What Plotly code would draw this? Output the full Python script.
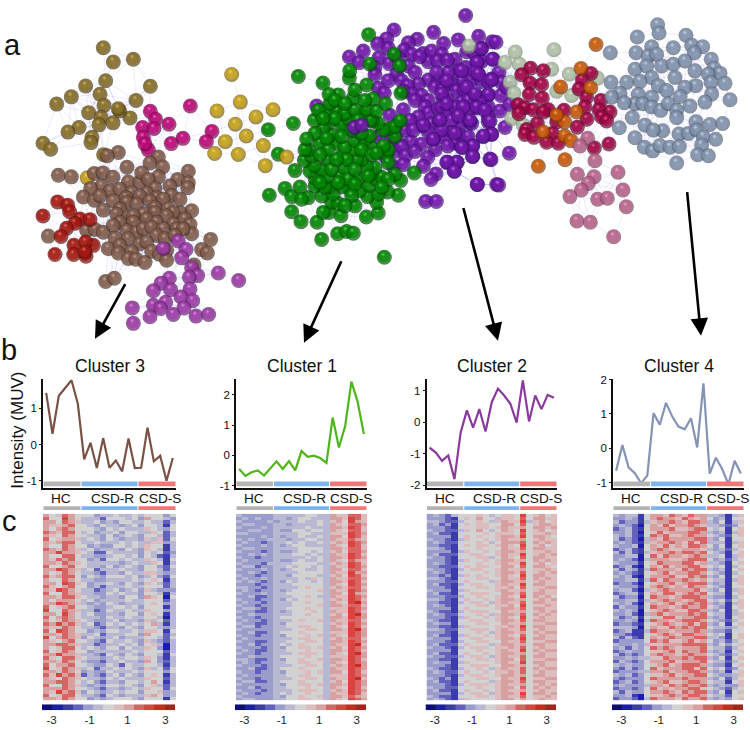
import plotly.graph_objects as go

# ---------- network nodes ----------
# L: read on a 3x crop with origin (0,20); M: origin (255,0); R: origin (375,0)
OLIVE_L = [(310,70),(340,113),(400,105),(317,170),(257,186),(451,187),(214,219),(170,241),(300,211),(408,230),(312,245),(266,267),(390,283),(359,262),(355,255),(303,281),(339,298),(297,304),(237,312),(204,326),(276,342),(273,358),(129,360),(152,378),(311,395)]
MAGENTA_L = [(571,247),(451,263),(467,287),(507,302),(428,312),(462,315),(430,342),(636,324),(549,345),(514,361),(619,355),(445,380),(435,362)]
GOLD_L = [(695,151),(721,235),(651,262),(819,258),(768,280),(706,302),(739,338),(676,355),(790,367),(644,391),(715,394),(796,428),(262,465)]
RED_L = [(173,538),(203,548),(209,568),(129,581),(240,590),(270,592),(225,603),(200,618),(183,643),(222,670),(280,670),(257,660),(165,698),(221,698),(258,703),(255,690)]
BROWN_L = [(355,388),(322,398),(475,402),(450,420),(488,432),(381,433),(565,445),(175,457),(214,462),(283,452),(309,450),(339,463),(475,462),(533,470),(565,480),(563,495),(385,478),(420,478),(425,450),(445,470),(465,497),(305,490),(272,497),(330,505),(360,500),(395,510),(250,523),(283,533),(300,520),(340,535),(378,525),(440,512),(510,490),(515,518),(420,520),(470,525),(450,535),(490,530),(380,540),(410,545),(465,555),(505,558),(540,530),(575,565),(310,563),(360,560),(350,575),(385,583),(430,575),(465,570),(540,570),(520,570),(500,580),(440,590),(400,580),(470,600),(360,600),(520,605),(400,600),(555,590),(570,607),(530,620),(575,635),(260,625),(285,622),(145,642),(310,630),(340,610),(345,648),(380,625),(410,630),(430,620),(455,615),(490,620),(550,620),(470,640),(495,650),(525,640),(385,650),(420,665),(440,660),(325,680),(360,670),(355,693),(395,690),(385,710),(408,712),(435,722),(455,688),(478,697),(500,685),(500,715),(632,652),(605,683),(622,693),(317,780),(343,770),(582,730)]
LILAC_L = [(490,680),(535,657),(558,683),(545,708),(575,738),(593,762),(568,767),(655,754),(716,777),(508,770),(483,785),(460,808),(512,805),(570,803),(543,827),(578,838),(397,860),(460,852),(497,843),(482,862),(552,860),(520,880),(450,887),(588,885),(626,880),(400,907)]
PURPLE_M = [(632,32),(417,76),(536,83),(395,103),(487,104),(610,106),(671,95),(566,117),(325,140),(368,118),(460,115),(400,132),(447,137),(283,158),(312,175),(372,160),(403,178),(360,190),(360,212),(505,147),(530,140),(470,150),(430,160),(600,165),(680,170),(680,132),(635,142),(560,150),(657,145),(712,112),(715,165),(665,175),(610,200),(580,205),(520,172),(460,185),(495,157),(548,170),(578,168),(632,190),(670,210),(425,210),(400,230),(440,230),(480,205),(520,228),(550,230),(490,240),(620,230),(590,240),(540,250),(545,205),(650,228),(680,232),(710,225),(458,245),(470,270),(370,253),(388,268),(445,262),(500,275),(563,257),(605,260),(627,258),(660,275),(700,273),(480,290),(520,290),(565,285),(580,290),(620,295),(640,290),(680,290),(445,318),(405,335),(510,310),(520,328),(550,315),(560,310),(580,320),(600,310),(665,312),(700,310),(490,340),(700,340),(430,360),(465,350),(503,367),(530,360),(552,350),(610,337),(620,360),(645,357),(650,360),(700,355),(450,380),(590,385),(615,395),(685,400),(710,392),(410,400),(425,407),(467,415),(560,400),(640,400),(535,408),(500,423),(600,420),(578,428),(620,432),(653,427),(420,445),(440,430),(540,440),(452,458),(518,463),(480,445),(653,460),(705,468),(578,478),(607,478),(598,505),(505,490),(390,460),(415,490),(445,485),(543,513),(528,530),(667,545),(512,597),(544,597),(725,545),(185,307),(370,400),(560,380),(640,320),(590,350),(475,380),(520,385)]
PURPLE_R = [(363,113),(318,133),(352,165),(307,175),(372,205),(260,200),(300,205),(310,210),(340,232),(215,230),(380,235),(350,228),(275,250),(200,270),(340,272),(378,275),(215,300),(315,295),(305,310),(330,320),(375,322),(285,350),(345,353),(240,390),(390,372),(350,393),(325,398),(403,450),(348,470),(371,547),(307,545),(293,428),(262,433),(293,460),(245,478),(215,478),(238,505),(265,310),(300,270),(250,337),(195,350),(145,365),(175,408),(404,302),(395,250)]
GREEN_M = [(130,217),(204,237),(341,90),(115,360),(40,379),(70,453),(120,503),(43,578),(90,557),(110,582),(135,553),(160,585),(140,590),(110,628),(138,658),(186,660),(200,712),(248,695),(275,688),(295,693),(222,630),(205,630),(258,640),(334,644),(370,632),(365,600),(388,766),(430,578),(398,568),(338,582),(300,610),(230,600),(250,603),(200,580),(235,575),(370,575),(315,565),(285,560),(222,553),(262,552),(180,550),(210,555),(342,548),(365,530),(380,523),(437,533),(478,510),(420,515),(400,530),(350,510),(310,525),(255,520),(360,495),(335,490),(320,470),(305,470),(268,495),(280,530),(215,522),(180,525),(165,505),(200,500),(178,488),(148,472),(170,460),(220,470),(260,460),(395,455),(400,440),(160,440),(150,440),(195,420),(245,420),(220,440),(295,440),(270,433),(345,430),(300,413),(330,410),(345,398),(385,428),(420,400),(405,375),(420,370),(385,380),(370,360),(352,352),(300,385),(270,375),(260,365),(280,345),(345,350),(230,395),(220,360),(205,375),(180,390),(155,407),(178,350),(210,322),(247,322),(190,320),(225,300),(270,330),(320,335),(300,318),(335,318),(365,322),(392,300),(355,285),(295,283),(250,273),(222,272),(300,258),(335,243),(283,222),(284,200),(438,268),(436,352),(418,150),(434,185),(345,180),(240,345),(275,470),(320,440),(230,500),(300,500),(195,540),(250,540),(300,545),(350,455),(400,480),(365,450),(245,470),(195,455),(320,390),(290,380),(260,400),(240,290),(330,290),(270,300),(310,350),(205,345),(215,405),(340,520),(290,580),(270,610),(380,555)]
PURPLE_TOP_M = [(298,372),(320,365)]
GOLD_TOP_M = [(95,462)]
SAGE_R = [(282,125),(421,143),(537,136),(390,175),(433,180),(530,195),(583,210),(667,222),(405,235),(417,268),(545,262),(590,275),(410,345),(445,365)]
CRIMSON_R = [(467,192),(505,200),(440,212),(465,237),(500,242),(648,208),(622,228),(612,255),(463,272),(502,283),(635,280),(678,290),(430,303),(450,312),(432,330),(475,318),(520,318),(505,325),(567,320),(630,310),(672,318),(705,325),(680,340),(695,352),(636,347),(545,355),(487,360),(607,371),(455,378),(450,393),(477,402),(533,390),(515,417),(550,420),(658,434),(702,422)]
ORANGE_R = [(663,120),(618,193),(557,249),(647,252),(605,325),(569,355),(545,335),(505,386),(569,398),(588,412),(570,470),(490,490)]
MAUVE_R = [(638,405),(615,428),(660,473),(607,514),(657,522),(729,508),(640,542),(619,562),(744,562),(585,582),(668,590),(697,587),(754,613),(606,656),(646,660),(716,704)]
SLATE_R = [(848,60),(852,85),(787,97),(933,92),(706,145),(830,127),(783,145),(895,130),(950,122),(983,127),(958,145),(820,155),(845,150),(780,195),(815,185),(860,185),(895,180),(930,170),(1009,165),(1017,192),(1035,207),(960,200),(900,220),(830,220),(1000,210),(795,232),(755,235),(708,235),(850,245),(962,245),(1008,235),(1050,238),(875,260),(930,250),(1010,270),(1065,288),(735,268),(710,280),(790,272),(830,280),(780,300),(748,297),(803,300),(830,310),(857,320),(945,307),(990,295),(915,278),(772,342),(810,365),(733,373),(880,300),(905,320),(905,342),(963,355),(1005,363),(1043,360),(863,382),(835,380),(912,392),(940,390),(965,380),(985,400),(1022,408),(780,403),(808,432),(833,443),(855,427),(885,432),(913,430),(980,425),(968,455),(1000,458),(905,480)]

def crop(points, ox, oy):
    return [(ox + a / 3, oy + b / 3) for a, b in points]

# name, nodes, dark edge, body, highlight, link distance
NETWORK = [
    ("olive", crop(OLIVE_L, 0, 20), "#4a3a10", "#8a7128", "#d8c890", 42),
    ("magenta", crop(MAGENTA_L, 0, 20), "#6a0445", "#c00878", "#f090d0", 34),
    ("gold", crop(GOLD_L, 0, 20), "#6f5608", "#c9a51a", "#f4e490", 36),
    ("brown", crop(BROWN_L, 0, 20), "#4a3024", "#85604f", "#d0b8ac", 34),
    ("red", crop(RED_L, 0, 20), "#5e0c08", "#a81810", "#ea8c80", 30),
    ("lilac", crop(LILAC_L, 0, 20), "#5a1c66", "#a03ca8", "#e4b0e8", 34),
    ("purple", crop(PURPLE_M, 255, 0) + crop(PURPLE_R, 375, 0), "#3d0a70", "#7418ac", "#cc98e8", 28),
    ("green", crop(GREEN_M, 255, 0), "#014d01", "#038a03", "#80dc80", 28),
    ("purple2", crop(PURPLE_TOP_M, 255, 0), "#3d0a70", "#7418ac", "#cc98e8", 0),
    ("gold2", crop(GOLD_TOP_M, 255, 0), "#6f5608", "#c9a51a", "#f4e490", 0),
    ("sage", crop(SAGE_R, 375, 0), "#7c8c74", "#b4c4aa", "#eef4ea", 34),
    ("crimson", crop(CRIMSON_R, 375, 0), "#5a0428", "#a40545", "#ee88a8", 30),
    ("orange", crop(ORANGE_R, 375, 0), "#7a3404", "#cc5c08", "#f8bc80", 30),
    ("mauve", crop(MAUVE_R, 375, 0), "#7a3c5a", "#bb668e", "#f0c4d8", 36),
    ("slate", crop(SLATE_R, 375, 0), "#505e72", "#8596b0", "#dfe6ee", 30),
]

# ---------- profiles ----------
GROUP_NAMES = ["HC", "CSD-R", "CSD-S"]
GROUP_SPANS = [(-0.5, 5.5), (5.5, 14.5), (14.5, 20.5)]
GROUP_COLORS = ["#b4b4b4", "#7db4ee", "#ee7878"]
SAMPLES = list(range(21))
CLUSTER_NAMES = ["Cluster 3", "Cluster 1", "Cluster 2", "Cluster 4"]
LINE_COLORS = ["#7a5245", "#4fb51c", "#8a3a9c", "#8494b4"]
PROFILE_3 = [1.43,0.30,1.35,1.58,1.78,1.13,-0.41,0.05,-0.65,0.18,-0.64,-0.44,-0.74,0.17,-0.65,-0.64,0.47,-0.46,-0.31,-1.0,-0.37]
PROFILE_1 = [-0.45,-0.68,-0.56,-0.50,-0.67,-0.43,-0.20,-0.45,-0.19,-0.50,0.14,-0.05,-0.01,-0.09,-0.25,1.25,0.26,0.97,2.44,1.77,0.70]
PROFILE_2 = [-0.80,-0.96,-1.22,-1.05,-1.80,-0.32,0.38,-0.17,0.42,-0.29,0.64,1.07,0.85,0.59,-0.01,1.33,0.03,0.85,0.42,0.87,0.78]
PROFILE_4 = [-0.66,0.09,-0.56,-0.73,-1.02,-0.80,1.02,0.68,1.32,0.92,0.63,0.55,0.87,0.02,1.89,-0.74,-0.28,-0.61,-1.05,-0.37,-0.74]
PROFILES = [PROFILE_3, PROFILE_1, PROFILE_2, PROFILE_4]
Y_RANGES = [(-1.2, 1.82), (-1.08, 2.53), (-2.08, 1.38), (-1.16, 2.02)]
Y_TICKS = [[-1, 0, 1], [-1, 0, 1, 2], [-2, -1, 0, 1], [-1, 0, 1, 2]]
Y_TICK_TEXT = [["-1", "0", "1"], ["-1", "0", "1", "2"], ["-2", "-1", "0", "1"], ["-1", "0", "1", "2"]]

# ---------- heat map cells: one character per sample, a 13 step scale 0..c ----------
HEAT_3 = """
867986 664556556 566646
966a86 555366656 486654
886987 556454665 565535
877896 654655456 466526
868986 665465655 576546
987996 564556466 557635
876986 655464565 466535
967887 565465455 475736
878996 556555656 557745
866986 645446656 576625
987987 564555465 476525
88a887 653365555 465634
866996 554456656 465325
879896 645366565 576526
887987 655555456 557625
966896 655464565 466436
88a987 563555655 466535
867986 554355465 577545
978996 465466656 456436
866986 554455556 567625
886a97 645565465 476535
976896 645355565 566635
87a986 553456456 475444
966987 554465655 466525
887997 655455466 487616
868886 564555565 566635
88a987 545465455 567645
967896 654456656 466625
a66987 553465565 576645
886a86 564455466 467625
968986 555465565 566515
867987 654456455 475635
98a897 563465656 568525
877986 554355465 466545
96a986 645466556 577626
887987 556355566 486635
a68987 465456455 566536
876896 654365565 475435
889987 553455656 467515
867996 565466465 576415
967986 645555556 566635
88a887 554365465 466526
976997 655456566 576425
887986 544355655 486435
968896 654465365 566525
a67987 563556565 475636
887986 454465556 566646
97a897 354356465 467625
876987 655465655 576635
889986 564355466 568625
966987 545466565 467535
888986 654355456 576636
87a897 465456566 466745
967996 554365455 578645
887986 645456665 466626
""".split("\n")

HEAT_1 = """
544444 555556655 877997
454544 554566555 887a97
544445 455565565 786a87
455444 554555565 876998
544454 555556555 887a97
445544 544665665 876997
554444 555566555 777a98
444454 545565565 886a97
545445 554556655 877987
454434 556565565 787a98
544454 545665555 876a97
455444 555566665 887997
544434 544566565 786998
445454 555665655 877a97
544344 555556565 887a98
454444 544565565 876987
544435 555666655 787a97
455344 556566565 877a98
544454 545665565 886997
445434 555566665 877a88
544344 554666655 786a97
454454 555565765 877998
545434 546566565 887a97
444344 555666665 876a98
554434 555567665 787997
454344 545666675 877a98
544454 556666665 886a87
445334 555667655 877a98
544344 546566665 787a97
454434 555667665 876ab8
544344 555666675 887997
455434 556667665 777a98
544334 545666765 877a97
445444 555667665 786ab8
544344 566666665 887a98
454434 555676675 877997
544334 546666665 787a98
455344 556677665 876a97
544444 555667765 887ab8
445334 566676665 777a98
544344 546667675 876a98
454444 555677665 787997
544334 556667765 887a98
445344 565676665 877ab7
544434 546677675 786a98
454334 556667665 887a97
544344 555677765 876ab8
445444 566667665 777a98
554334 546676675 887a97
454344 556677665 876a98
544434 555667765 787ab8
445334 566676665 877a98
544344 546667675 886a97
454444 556677665 777a98
544344 555667765 877ab7
455334 566676665 786a98
544444 546677675 887a98
445344 556667665 876a97
544434 555677765 787a98
454344 565667665 877a97
544444 546676675 887987
455444 556677665 876a98
""".split("\n")

HEAT_2 = """
454356 667656776 a67867
444326 768665776 968877
554335 667657877 a57867
453426 767766886 967887
444326 667767877 868878
544335 768656876 a67867
453326 666767776 967787
444426 767667887 a68876
544325 766767877 867877
454336 667656888 968787
443326 767767876 a67867
554326 667666877 968877
444425 766767887 867787
453336 677667877 a67878
544326 667756876 968877
444325 766767887 868787
454326 667667877 a67867
443336 767766886 968876
544325 677667877 867787
454326 666767887 967878
443425 767667876 a68877
554326 667766877 968787
444336 766657887 867877
453325 677667877 a68877
444326 667767786 967788
544425 766667877 867877
453326 677766887 968877
444335 667667876 a68786
554326 766767887 867878
443325 677657877 968877
454326 667767786 a67787
444426 766667887 968877
543325 677766877 867878
454336 667657887 968787
444325 766767876 a67877
543326 677667887 968877
454426 667766877 867788
443325 766667787 a68877
554336 677767877 967877
444326 667657887 868788
453325 766767876 967877
544426 677667887 a68877
444325 667766877 967788
453336 766657887 868877
544325 677767787 967877
444426 667667877 a68788
453326 766767887 867877
544335 677657877 968877
443326 667767886 967788
454425 766667877 a68877
444326 677766887 867877
543325 667657877 968788
454336 766767787 967877
444325 677667887 868877
543426 667766877 a67788
453326 766657887 968877
444325 677767877 867878
544336 667667886 968787
453326 766767877 867877
444425 677657887 a68878
543326 667767877 967787
454325 766667886 867877
""".split("\n")

HEAT_4 = """
545526 887987988 554257
445426 898879878 645266
534425 788987998 546257
454316 879788987 554346
345326 888977899 656267
445316 797888998 545257
545326 989778988 654367
534315 879888899 546266
454325 788987979 555257
544516 879787998 646267
345326 898778887 545356
535325 788989989 654267
445516 979887898 556257
454315 888778999 645356
544426 798889978 554267
345216 879788997 656256
535425 988879899 545267
454326 789788998 654256
545216 888977989 546267
445525 979889878 655257
344316 788978999 545267
544426 898787988 654266
455315 789888897 546257
345526 879978989 655267
534416 988789998 544256
445525 789887899 656367
545316 878978989 545257
354426 988789889 654267
545416 789877998 546256
445315 897888989 655257
534526 779978899 545267
445415 988789998 654356
344326 789878979 546267
555416 877989899 655456
345225 988788898 544366
443226 789879988 656267
535326 878988899 554267
344446 989778978 645356
544545 778889999 546467
453546 989878889 655356
345446 778979889 545267
534346 898878988 654356
445455 779889899 546267
354346 888978889 655356
545446 789789998 544267
435346 978889979 656346
344455 889788998 545267
545346 778978899 654457
434446 988889888 546356
345346 789778998 655267
454445 887989889 545447
344346 978788997 654356
535446 889879899 546267
445216 778988998 655366
344315 988879889 545467
""".split("\n")

HEATS = [HEAT_3, HEAT_1, HEAT_2, HEAT_4]
LEVEL_CHARS = "0123456789abc"
LEVEL_VALUES = [-3.23,-2.69,-2.15,-1.62,-1.08,-0.54,0.0,0.54,1.08,1.62,2.15,2.69,3.23]
LEVEL_COLORS = ["#0c0c80","#1c1cb4","#3c3cae","#6262bc","#9a9ccc","#b8b8d2","#d2d2d2","#dcbcbc","#d8a0a0","#d86464","#d84440","#c82a20","#a82220"]
SCALE_TICKS = [-3, -1, 1, 3]
SCALE_TICK_TEXT = ["-3", "-1", "1", "3"]

# ---------- page geometry in pixels ----------
W, H = 750, 730
LEFTS = [43, 236, 426.5, 613]
RIGHTS = [176, 367, 557, 744]
LINE_TOP, LINE_BOT = 378.5, 489
HEAT_TOP, HEAT_BOT = 515, 704
BAR_TOP, BAR_BOT = 708, 714
FONT = "Liberation Sans"

fig = go.Figure()

# network links from node distances
link_x, link_y = [], []
for name, nodes, _, _, _, reach in NETWORK:
    for i, (x0, y0) in enumerate(nodes):
        for x1, y1 in nodes[i + 1:]:
            if (x0 - x1) ** 2 + (y0 - y1) ** 2 < reach ** 2:
                link_x += [x0, x1, None]
                link_y += [y0, y1, None]
every = [(n, c[0]) for c in NETWORK for n in c[1]]
for i, (p, a) in enumerate(every):
    for q, b in every[i + 1:]:
        if a[:5] != b[:5] and (p[0] - q[0]) ** 2 + (p[1] - q[1]) ** 2 < 26 ** 2:
            link_x += [p[0], q[0], None]
            link_y += [p[1], q[1], None]
fig.add_trace(go.Scatter(x=link_x, y=link_y, mode="lines", hoverinfo="skip", showlegend=False,
                         line=dict(color="rgba(110,110,250,0.2)", width=0.7), xaxis="x", yaxis="y"))

# spheres: each node is a shaded disc, its flat body and a small highlight
for name, nodes, dark, body, light, _ in NETWORK:
    xs, ys, sizes, edge, centre = [], [], [], [], []
    for x0, y0 in nodes:
        xs += [x0, x0 - 0.5, x0 - 1.2]
        ys += [y0, y0 - 0.9, y0 - 2.8]
        sizes += [15, 12, 5]
        edge += [dark, body, body]
        centre += [body, body, light]
    fig.add_trace(go.Scatter(x=xs, y=ys, mode="markers", hoverinfo="skip", showlegend=False, name=name,
                             marker=dict(size=sizes, color=edge, line=dict(width=0),
                                         gradient=dict(type="radial", color=centre)),
                             xaxis="x", yaxis="y"))

layout = dict(
    width=W, height=H, margin=dict(l=0, r=0, t=0, b=0), showlegend=False,
    paper_bgcolor="white", plot_bgcolor="rgba(0,0,0,0)",
    xaxis=dict(domain=[0, 1], range=[0, W], visible=False, fixedrange=True),
    yaxis=dict(domain=[0, 1], range=[H, 0], visible=False, fixedrange=True),
)

shapes, notes = [], []
scale = []
for i, c in enumerate(LEVEL_COLORS):
    scale += [[i / 13, c], [(i + 1) / 13, c]]

for k in range(4):
    lx, rx = LEFTS[k], RIGHTS[k]
    dom = [lx / W, rx / W]
    a_line, a_heat, a_bar = 2 + 3 * k, 3 + 3 * k, 4 + 3 * k
    # profile
    fig.add_trace(go.Scatter(x=SAMPLES, y=PROFILES[k], mode="lines", hoverinfo="skip",
                             line=dict(color=LINE_COLORS[k], width=2.2),
                             xaxis=f"x{a_line}", yaxis=f"y{a_line}"))
    layout[f"xaxis{a_line}"] = dict(domain=dom, range=[-0.5, 20.5], anchor=f"y{a_line}", showgrid=False, zeroline=False,
                                    showticklabels=False, ticks="", showline=True, linecolor="#111", linewidth=1.6, fixedrange=True)
    layout[f"yaxis{a_line}"] = dict(domain=[1 - LINE_BOT / H, 1 - LINE_TOP / H], range=Y_RANGES[k], anchor=f"x{a_line}",
                                    showgrid=False, zeroline=False, tickvals=Y_TICKS[k], ticktext=Y_TICK_TEXT[k], ticks="outside", ticklen=2, tickwidth=1,
                                    tickcolor="#111", showline=True, linecolor="#111", linewidth=1.6, fixedrange=True,
                                    tickfont=dict(family=FONT, size=11.5, color="#111"))
    # heat map
    z = [[LEVEL_CHARS.index(ch) for ch in row.replace(" ", "")] for row in HEATS[k] if row.strip()]
    fig.add_trace(go.Heatmap(z=z, x=SAMPLES, y=list(range(len(z))), zmin=-0.5, zmax=12.5, colorscale=scale, showscale=False,
                             hoverinfo="skip", xaxis=f"x{a_heat}", yaxis=f"y{a_heat}"))
    layout[f"xaxis{a_heat}"] = dict(domain=dom, range=[-0.5, 20.5], anchor=f"y{a_heat}", visible=False, fixedrange=True)
    layout[f"yaxis{a_heat}"] = dict(domain=[1 - HEAT_BOT / H, 1 - HEAT_TOP / H], range=[len(z) - 0.5, -0.5], anchor=f"x{a_heat}",
                                    visible=False, fixedrange=True)
    # colour key
    fig.add_trace(go.Heatmap(z=[list(range(13))], x=LEVEL_VALUES, y=[0], zmin=-0.5, zmax=12.5, colorscale=scale, showscale=False,
                             hoverinfo="skip", xaxis=f"x{a_bar}", yaxis=f"y{a_bar}"))
    layout[f"xaxis{a_bar}"] = dict(domain=[(lx - 1) / W, (rx - 1) / W], range=[-3.5, 3.5], anchor=f"y{a_bar}", showgrid=False, zeroline=False,
                                   tickvals=SCALE_TICKS, ticktext=SCALE_TICK_TEXT, ticks="", ticklabelstandoff=1, fixedrange=True,
                                   tickfont=dict(family=FONT, size=11.5, color="#222"))
    layout[f"yaxis{a_bar}"] = dict(domain=[1 - BAR_BOT / H, 1 - BAR_TOP / H], range=[-0.5, 0.5], anchor=f"x{a_bar}", visible=False, fixedrange=True)
    # group strips and labels
    for span, colour in zip(GROUP_SPANS, GROUP_COLORS):
        for axis_id, y0, y1 in ((a_line, 0.015, 0.06), (a_heat, 1.019, 1.04)):
            shapes.append(dict(type="rect", xref=f"x{axis_id}", yref=f"y{axis_id} domain", x0=span[0] + 0.08, x1=span[1] - 0.08,
                               y0=y0, y1=y1, fillcolor=colour, line=dict(width=0), layer="above"))
    for name, pos in zip(GROUP_NAMES, (2.4, 10.4, 18)):
        notes.append(dict(xref=f"x{a_line}", yref="paper", x=pos, y=1 - 500 / H, text=name, showarrow=False, xanchor="center", yanchor="middle",
                          font=dict(family=FONT, size=13.6, color="#111")))
    notes.append(dict(xref="paper", yref="paper", x=(lx + rx) / 2 / W, y=1 - 366 / H, text=CLUSTER_NAMES[k], showarrow=False,
                      xanchor="center", yanchor="middle", font=dict(family=FONT, size=17.5, color="#111")))

for letter, px, py in (("a", 12, 40), ("b", 9, 349), ("c", 9, 522)):
    notes.append(dict(xref="paper", yref="paper", x=px / W, y=1 - py / H, text=letter, showarrow=False,
                      xanchor="center", yanchor="middle", font=dict(family=FONT, size=29, color="#111")))
notes.append(dict(xref="paper", yref="paper", x=18 / W, y=1 - 431 / H, text="Intensity (MUV)", textangle=-90, showarrow=False,
                  xanchor="center", yanchor="middle", font=dict(family=FONT, size=17, color="#111")))

for (tx, ty), (hx, hy) in (((126, 281), (95, 338)), ((342, 258), (304, 342)), ((463, 204), (498, 340)), ((687, 188), (701, 335))):
    notes.append(dict(xref="x", yref="y", axref="x", ayref="y", x=hx, y=hy, ax=tx, ay=ty, text="", showarrow=True,
                      arrowhead=2, arrowsize=1.35, arrowwidth=2.6, arrowcolor="#000", standoff=0, startstandoff=0))

layout["shapes"] = shapes
layout["annotations"] = notes
fig.update_layout(**layout)
fig.write_html("out.html", config=dict(displayModeBar=False),
               post_script="document.body.style.margin='0';document.documentElement.style.overflow='hidden';")
